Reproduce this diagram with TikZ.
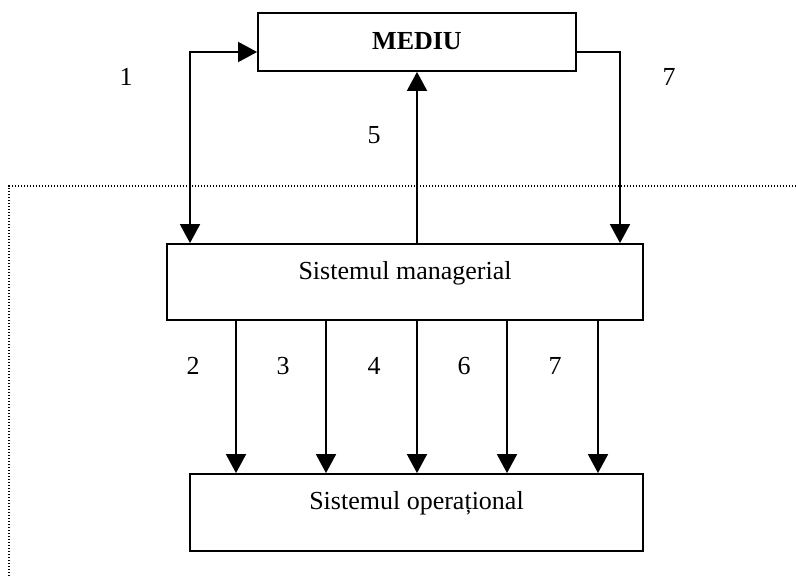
\documentclass[tikz,border=0pt]{standalone}
\usepackage{fontspec}
\setmainfont{Liberation Serif}
\usetikzlibrary{arrows.meta, positioning, calc}
\tikzset{
	blk/.style  ={rectangle, draw=black, line width=1.8pt, inner sep=0pt},
	txt/.style  ={inner sep=0pt, font=\fontsize{26}{30}\selectfont},
	sig/.style  ={-{Triangle[length=19pt, width=20pt]}, line width=1.8pt},
	dsig/.style ={{Triangle[length=19pt, width=20pt]}-{Triangle[length=19pt, width=20pt]}, line width=1.8pt},
	border/.style={line width=1.5pt, dash pattern=on 1.4pt off 1.6pt},
}
\begin{document}
\begin{tikzpicture}[x=1pt, y=-1pt]
	\useasboundingbox (0,0) rectangle (796,576);
	% boundary of the organisation
	\draw[border] (796,186) -- (9,186) -- (9,576);
	% boxes
	\node[blk, minimum width=318pt, minimum height=58pt] (mediu) at (417,42) {};
	\node[txt, font=\fontsize{26}{30}\selectfont\bfseries] (mediutext) at ([yshift=1pt]mediu.center) {MEDIU};
	\node[blk, minimum width=476pt, minimum height=76pt] (mgr) at (405,282) {};
	\node[txt] (mgrtext) at ([yshift=9pt]mgr.center) {Sistemul managerial};
	\node[blk, minimum width=453pt, minimum height=77pt] (ops) at (416.5,512.5) {};
	\node[txt] (opstext) at ([yshift=9pt]ops.center) {Sistemul operațional};
	% links with the environment
	\coordinate (c1) at (190,52);
	\coordinate (c7) at (620,52);
	\draw[dsig] (mgr.north -| c1) -- (c1) -- (c1 -| mediu.west);
	\draw[sig] (c7 -| mediu.east) -- (c7) -- (mgr.north -| c7);
	\draw[sig] (mgr.north -| mediu.south) -- (mediu.south);
	\node[txt] (l1) at (126,77) {1};
	\node[txt] (l5) at (374,135) {5};
	\node[txt] (l7a) at (669,77) {7};
	% flows from managerial to operational
	\foreach \x/\n in {236/2,326/3,417/4,507/6,598/7}{
		\coordinate (f\n) at (\x,0);
		\draw[sig] (mgr.south -| f\n) -- (ops.north -| f\n);
		\node[txt] (lf\n) at (\x-43,366) {\n};
	}
\end{tikzpicture}
\end{document}
